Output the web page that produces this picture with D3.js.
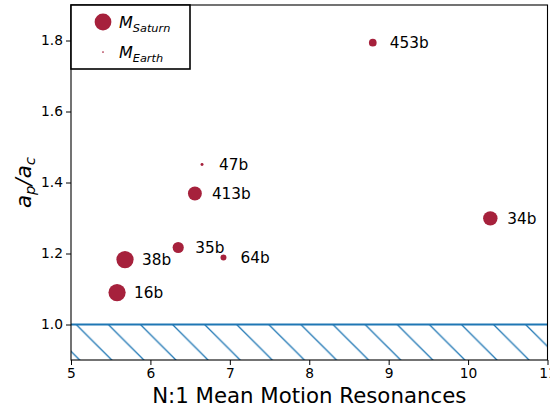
<!DOCTYPE html>
<html>
<head>
<meta charset="utf-8">
<script src="https://cdn.jsdelivr.net/npm/d3@7"></script>
<style>
  body { margin: 0; background: #fff; }
  text { font-family: "DejaVu Sans", sans-serif; fill: #000; }
</style>
</head>
<body>
<div id="chart"></div>
<script>

// data
var planets = ["453b", "34b", "47b", "413b", "35b", "64b", "38b", "16b"];
var resonance = [8.80, 10.28, 6.65, 6.56, 6.35, 6.92, 5.68, 5.58];   // N
var ratio = [1.794, 1.299, 1.451, 1.369, 1.217, 1.189, 1.183, 1.090]; // ap/ac
var mass = [20, 70, 3, 65, 42, 12, 100, 100];                         // Earth masses
var xTicks = [5, 6, 7, 8, 9, 10, 11];
var yTicks = [1.0, 1.2, 1.4, 1.6, 1.8];
var legendMass = [95, 1];
var legendNames = [["M", "Saturn"], ["M", "Earth"]];

// setup dimensions
var W = 550, H = 409,
    margin = {top: 5, right: 2.5, bottom: 49, left: 71},
    width = W - margin.left - margin.right,
    height = H - margin.top - margin.bottom;

var color = "#a6213c", blue = "#1f77b4";

var svg = d3.select("#chart").append("svg")
  .attr("width", W)
  .attr("height", H);

var g = svg.append("g")
  .attr("transform", "translate(" + margin.left + "," + margin.top + ")");

// scales
var x = d3.scaleLinear().domain([5, 11]).range([0, width]);
var y = d3.scaleLinear().domain([0.9, 1.9]).range([height, 0]);
var r = d3.scaleSqrt().domain([0, 95]).range([0, 8.4]);

// hatch pattern, anchored like matplotlib's
var P = 32.1;
var defs = svg.append("defs");
defs.append("pattern")
  .attr("id", "hatch")
  .attr("patternUnits", "userSpaceOnUse")
  .attr("width", P)
  .attr("height", P)
  .attr("patternTransform", "translate(" + (13.5 - margin.left) + ",0)")
.append("path")
  .attr("d", "M-2,-2L" + (P + 2) + "," + (P + 2) +
             "M-2," + (P - 2) + "L2," + (P + 2) +
             "M" + (P - 2) + ",-2L" + (P + 2) + ",2")
  .attr("stroke", blue)
  .attr("stroke-width", 1.3)
  .attr("fill", "none");

defs.append("clipPath").attr("id", "clip")
.append("rect").attr("width", width).attr("height", height);

// hatched region below 1.0
var plot = g.append("g").attr("clip-path", "url(#clip)");
plot.append("rect")
  .attr("x", 0)
  .attr("y", y(1.0))
  .attr("width", width)
  .attr("height", y(0.9) - y(1.0))
  .attr("fill", "url(#hatch)");
plot.append("line")
  .attr("x1", 0).attr("x2", width)
  .attr("y1", y(1.0)).attr("y2", y(1.0))
  .attr("stroke", blue)
  .attr("stroke-width", 2);

// axes
var xAxis = g.append("g")
  .attr("transform", "translate(0," + height + ")")
  .call(d3.axisBottom(x).tickValues(xTicks).tickFormat(d3.format("d")).tickSize(5).tickSizeOuter(0).tickPadding(3));
var yAxis = g.append("g")
  .call(d3.axisLeft(y).tickValues(yTicks).tickFormat(d3.format(".1f")).tickSize(5).tickSizeOuter(0).tickPadding(3));
[xAxis, yAxis].forEach(function(a) {
  a.selectAll("text").style("font-family", "DejaVu Sans").style("font-size", "13.8px").attr("fill", "#000");
  a.selectAll("line").attr("stroke", "#000").attr("stroke-width", 1);
  a.select(".domain").remove();
});

// frame
g.append("rect")
  .attr("width", width)
  .attr("height", height)
  .attr("fill", "none")
  .attr("stroke", "#000")
  .attr("stroke-width", 1.1);

// points
var pts = planets.map(function(p, i) {
  return {name: p, n: resonance[i], a: ratio[i], m: mass[i]};
});
g.selectAll("circle.planet")
  .data(pts)
  .enter().append("circle")
  .attr("class", "planet")
  .attr("cx", function(d) { return x(d.n); })
  .attr("cy", function(d) { return y(d.a); })
  .attr("r", function(d) { return r(d.m); })
  .attr("fill", color);
g.selectAll("text.label")
  .data(pts)
  .enter().append("text")
  .attr("class", "label")
  .attr("x", function(d) { return x(d.n) + 17; })
  .attr("y", function(d) { return y(d.a); })
  .attr("dy", "0.36em")
  .style("font-size", "15.3px")
  .text(function(d) { return d.name; });

// legend
var legend = g.append("g");
legend.append("rect")
  .attr("width", 119)
  .attr("height", 64)
  .attr("fill", "#fff")
  .attr("stroke", "#000")
  .attr("stroke-width", 1.6);
var items = legend.selectAll("g.item")
  .data(legendMass)
  .enter().append("g")
  .attr("class", "item")
  .attr("transform", function(d, i) { return "translate(32," + (17 + i * 30) + ")"; });
items.append("circle")
  .attr("r", function(d) { return r(d); })
  .attr("fill", color);
var lt = items.append("text")
  .attr("x", 16)
  .attr("y", 6)
  .style("font-size", "16px");
lt.append("tspan")
  .style("font-style", "italic")
  .text(function(d, i) { return legendNames[i][0]; });
lt.append("tspan")
  .attr("dy", 3.5)
  .style("font-style", "italic")
  .style("font-size", "11.3px")
  .text(function(d, i) { return legendNames[i][1]; });

// axis labels
svg.append("text")
  .attr("x", margin.left + x(8))
  .attr("y", 403)
  .attr("text-anchor", "middle")
  .style("font-size", "21.3px")
  .text("N:1 Mean Motion Resonances");

var yl = svg.append("text")
  .attr("transform", "translate(31," + (margin.top + y(1.4)) + ") rotate(-90)")
  .attr("text-anchor", "middle")
  .style("font-size", "21.3px")
  .style("font-style", "italic");
yl.append("tspan").text("a");
yl.append("tspan").attr("dy", 4).style("font-size", "14.9px").text("p");
yl.append("tspan").attr("dy", -4).text("/a");
yl.append("tspan").attr("dy", 4).style("font-size", "14.9px").text("c");

</script>
</body>
</html>
